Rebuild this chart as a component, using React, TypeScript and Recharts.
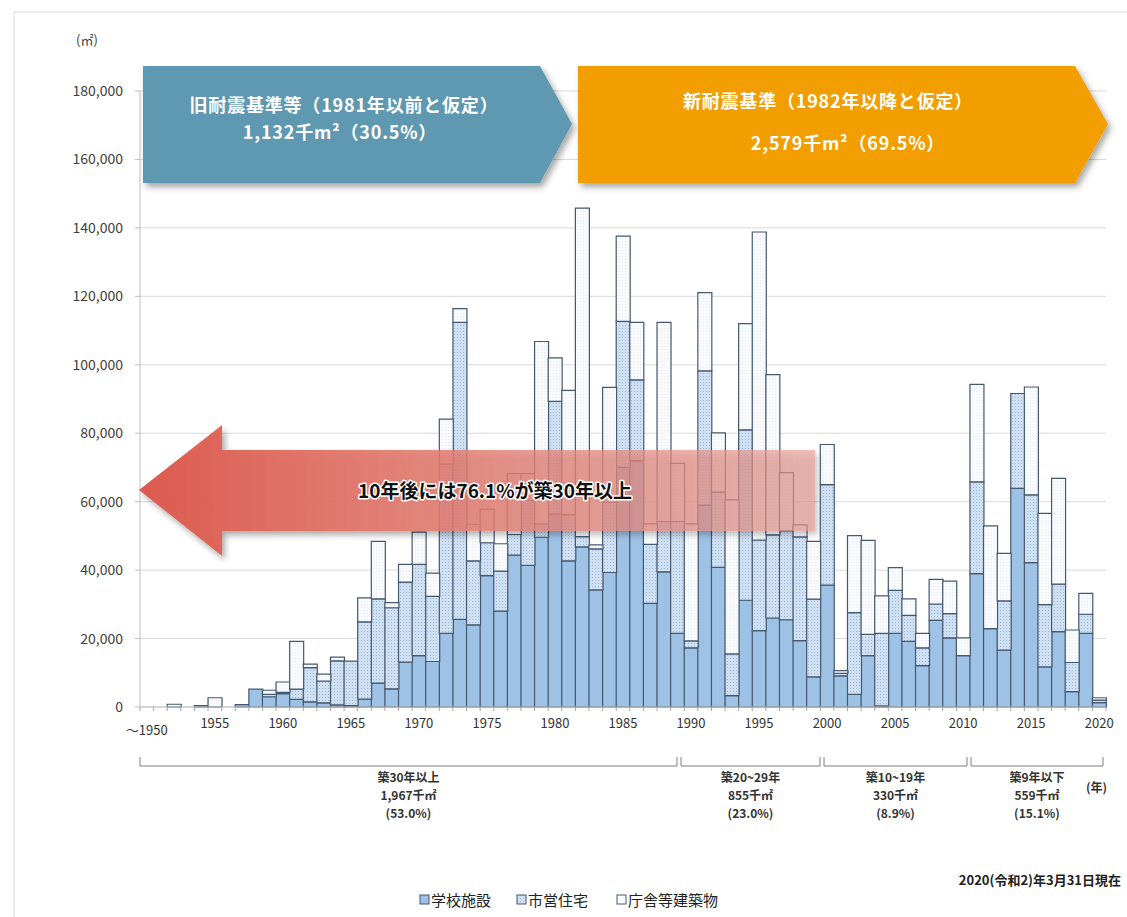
import React from 'react';
import { BarChart, Bar, XAxis, YAxis, CartesianGrid } from 'recharts';

// 建築年度別の延床面積（㎡）
const years = [
  1950, 1951, 1952, 1953, 1954, 1955, 1956, 1957, 1958, 1959,
  1960, 1961, 1962, 1963, 1964, 1965, 1966, 1967, 1968, 1969,
  1970, 1971, 1972, 1973, 1974, 1975, 1976, 1977, 1978, 1979,
  1980, 1981, 1982, 1983, 1984, 1985, 1986, 1987, 1988, 1989,
  1990, 1991, 1992, 1993, 1994, 1995, 1996, 1997, 1998, 1999,
  2000, 2001, 2002, 2003, 2004, 2005, 2006, 2007, 2008, 2009,
  2010, 2011, 2012, 2013, 2014, 2015, 2016, 2017, 2018, 2019,
  2020,
];

// 学校施設
const school = [
  0, 0, 0, 0, 0, 0, 0, 700, 5200, 3000,
  3900, 2200, 1500, 1200, 600, 400, 2300, 7000, 5300, 13100,
  15000, 13300, 21500, 25600, 24000, 38400, 28000, 44400, 41400, 49600,
  56400, 42700, 46800, 34200, 39300, 70000, 72000, 30300, 39500, 21500,
  17300, 59000, 40800, 3300, 31200, 22300, 26000, 25500, 19400, 8800,
  35600, 9100, 3700, 15000, 300, 21500, 19200, 12100, 25300, 20200,
  15000, 39000, 22900, 16600, 63900, 42200, 11700, 22000, 4500, 21500,
  1300,
];

// 市営住宅
const housing = [
  0, 0, 0, 0, 0, 0, 0, 0, 0, 700,
  400, 3000, 10000, 6400, 12900, 13000, 22600, 24600, 23700, 23400,
  26700, 19000, 49500, 86800, 18700, 9600, 11700, 6000, 19000, 3900,
  32900, 13500, 3000, 12000, 20500, 42700, 23600, 17200, 14700, 32700,
  2000, 39200, 22000, 12200, 49800, 26500, 24300, 26000, 30300, 22700,
  29400, 700, 23900, 6200, 21200, 12600, 7600, 5200, 4800, 7100,
  0, 26800, 0, 14400, 27700, 19800, 18200, 13900, 8500, 5600,
  700,
];

// 庁舎等建築物
const other = [
  0, 0, 800, 0, 400, 2700, 0, 0, 0, 1200,
  3000, 14000, 1000, 2000, 1100, 0, 7000, 16800, 1500, 5200,
  9400, 6800, 13100, 4000, 10700, 9800, 8000, 17800, 7800, 53300,
  12700, 36300, 96000, 1200, 33600, 24900, 16800, 6000, 58200, 17000,
  34200, 22900, 17300, 45000, 31000, 90000, 46800, 17000, 3500, 16900,
  11700, 800, 22500, 27500, 11000, 6600, 4800, 4200, 7200, 9500,
  5200, 28500, 30000, 13900, 0, 31500, 26700, 30900, 9500, 6100,
  700,
];

const yTicks = [0, 20000, 40000, 60000, 80000, 100000, 120000, 140000, 160000, 180000];

const data = years.map((year, i) => ({
  year,
  school: school[i],
  housing: housing[i],
  other: other[i],
}));

const FONT = "'Noto Sans CJK JP', 'Noto Sans', sans-serif";
const PLOT_LEFT = 140;
const PLOT_RIGHT = 1106;
const BAND = (PLOT_RIGHT - PLOT_LEFT) / years.length;
const OUTLINE = '#46586E';

// 年ごとの境界に目盛線、5年ごとにラベル
const YearTick = (props: any) => {
  const { x, y, payload, index } = props;
  const year = Number(payload.value);
  const edge = x - BAND / 2;
  return (
    <g>
      <line x1={edge} x2={edge} y1={y} y2={y + 4} stroke="#A6A6A6" />
      {index === years.length - 1 && (
        <line x1={x + BAND / 2} x2={x + BAND / 2} y1={y} y2={y + 4} stroke="#A6A6A6" />
      )}
      {year % 5 === 0 && (
        <text
          x={x}
          y={y + (year === 1950 ? 28 : 21)}
          textAnchor="middle"
          fontSize={13}
          fill="#333"
          fontFamily={FONT}
        >
          {year === 1950 ? '～1950' : year}
        </text>
      )}
    </g>
  );
};

const Bracket = ({ x1, x2, lines }: { x1: number; x2: number; lines: string[] }) => {
  const cx = (x1 + x2) / 2;
  return (
    <g>
      <polyline
        points={`${x1},757 ${x1},766 ${x2},766 ${x2},757`}
        fill="none"
        stroke="#7F7F7F"
        strokeWidth={1}
      />
      {lines.map((t, i) => (
        <text
          key={i}
          x={cx}
          y={782 + i * 18}
          textAnchor="middle"
          fontSize={12}
          fontWeight={700}
          fill="#333"
          fontFamily={FONT}
        >
          {t}
        </text>
      ))}
    </g>
  );
};

const bannerText = { textAnchor: 'middle' as const, fontSize: 18, fontWeight: 700, fill: '#fff', letterSpacing: 0.8 };

const App = () => {
  return (
    <div style={{ position: 'relative', width: 1127, height: 917, background: '#fff', fontFamily: FONT }}>
      <style>{'body{margin:0}'}</style>
      <BarChart
        width={1127}
        height={917}
        data={data}
        margin={{ top: 91, right: 21, bottom: 180, left: 60 }}
        barCategoryGap={0}
      >
        <CartesianGrid vertical={false} stroke="#D9D9D9" />
        <XAxis
          dataKey="year"
          height={30}
          interval={0}
          tickSize={0}
          tickMargin={0}
          tickLine={false}
          axisLine={{ stroke: '#BFBFBF' }}
          tick={<YearTick />}
        />
        <YAxis
          width={80}
          domain={[0, 180000]}
          ticks={yTicks}
          interval={0}
          tickSize={5}
          tickMargin={12}
          tickFormatter={(v: number) => v.toLocaleString('en-US')}
          tick={{ fontSize: 14, fill: '#404040', fontFamily: FONT }}
          axisLine={{ stroke: '#BFBFBF' }}
          tickLine={{ stroke: '#BFBFBF' }}
        />
        <Bar dataKey="school" stackId="a" fill="#9DC2E6" stroke={OUTLINE} strokeWidth={1.2} isAnimationActive={false} />
        <Bar dataKey="housing" stackId="a" fill="url(#hatch)" stroke={OUTLINE} strokeWidth={1.2} isAnimationActive={false} />
        <Bar dataKey="other" stackId="a" fill="url(#pale)" stroke={OUTLINE} strokeWidth={1.2} isAnimationActive={false} />
      </BarChart>

      <svg
        width={1127}
        height={917}
        style={{ position: 'absolute', left: 0, top: 0, pointerEvents: 'none' }}
        fontFamily={FONT}
      >
        <defs>
          <pattern id="hatch" width="3" height="3" patternUnits="userSpaceOnUse">
            <rect width="3" height="3" fill="#CFE0F2" />
            <rect x="1" y="1" width="1" height="1" fill="#99B8DA" />
          </pattern>
          <pattern id="pale" width="3" height="3" patternUnits="userSpaceOnUse">
            <rect width="3" height="3" fill="#F9FBFE" />
            <rect x="1" y="1" width="1" height="1" fill="#E3EBF4" />
          </pattern>
          <linearGradient id="redArrow" gradientUnits="userSpaceOnUse" x1="140" y1="0" x2="815" y2="0">
            <stop offset="0" stopColor="#DC5A4E" stopOpacity="1" />
            <stop offset="0.25" stopColor="#E17064" stopOpacity="0.95" />
            <stop offset="0.6" stopColor="#E3847A" stopOpacity="0.78" />
            <stop offset="1" stopColor="#E69990" stopOpacity="0.62" />
          </linearGradient>
          <filter id="shadow" x="-10%" y="-20%" width="130%" height="150%">
            <feDropShadow dx="3" dy="4" stdDeviation="3" floodColor="#000" floodOpacity="0.35" />
          </filter>
        </defs>

        {/* 枠線 */}
        <line x1={14} y1={12} x2={1127} y2={12} stroke="#D9D9D9" />
        <line x1={14} y1={12} x2={14} y2={917} stroke="#D9D9D9" />

        <text x={76} y={45} fontSize={13} fill="#404040">(㎡)</text>

        {/* 旧耐震基準 */}
        <polygon points="143,66 540,66 572,124 540,183 143,183" fill="#5F98B1" filter="url(#shadow)" />
        <text x={344} y={112} {...bannerText}>旧耐震基準等（1981年以前と仮定）</text>
        <text x={340} y={139} {...bannerText}>1,132千m²（30.5%）</text>

        {/* 新耐震基準 */}
        <polygon points="578,66 1075,66 1108,124 1075,183 578,183" fill="#F29D02" filter="url(#shadow)" />
        <text x={828} y={108} {...bannerText}>新耐震基準（1982年以降と仮定）</text>
        <text x={848} y={150} {...bannerText}>2,579千m²（69.5%）</text>

        {/* 10年後の見通し */}
        <polygon
          points="139,490 222,425 222,450 815,450 815,531 222,531 222,556"
          fill="url(#redArrow)"
          filter="url(#shadow)"
        />
        <text
          x={495}
          y={498}
          textAnchor="middle"
          fontSize={19}
          fontWeight={700}
          fill="#111"
          stroke="#fff"
          strokeWidth={3}
          paintOrder="stroke"
          strokeLinejoin="round"
        >
          10年後には76.1%が築30年以上
        </text>

        <Bracket x1={140} x2={677} lines={['築30年以上', '1,967千㎡', '(53.0%)']} />
        <Bracket x1={681} x2={820} lines={['築20~29年', '855千㎡', '(23.0%)']} />
        <Bracket x1={824} x2={967} lines={['築10~19年', '330千㎡', '(8.9%)']} />
        <Bracket x1={971} x2={1103} lines={['築9年以下', '559千㎡', '(15.1%)']} />
        <text x={1086} y={792} fontSize={12} fontWeight={700} fill="#333">(年)</text>

        <text x={1121} y={885} textAnchor="end" fontSize={13} fontWeight={700} fill="#222">
          2020(令和2)年3月31日現在
        </text>

        {/* 凡例 */}
        <g fontSize={15} fill="#222">
          <rect x={420} y={895} width={9} height={9} fill="#9DC2E6" stroke={OUTLINE} />
          <text x={431} y={906}>学校施設</text>
          <rect x={517} y={895} width={9} height={9} fill="url(#hatch)" stroke={OUTLINE} />
          <text x={528} y={906}>市営住宅</text>
          <rect x={617} y={895} width={9} height={9} fill="#fff" stroke={OUTLINE} />
          <text x={628} y={906}>庁舎等建築物</text>
        </g>
      </svg>
    </div>
  );
};

export default App;
